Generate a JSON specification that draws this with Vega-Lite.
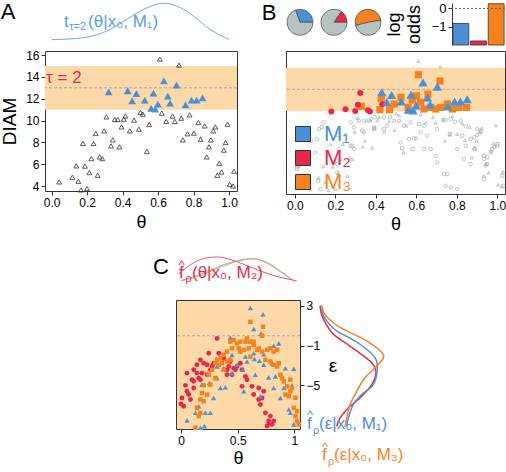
{
"$schema":"https://vega.github.io/schema/vega-lite/v6.json",
"padding":0,
"config":{"font":"Liberation Sans","view":{"stroke":null},"axis":{"labelFont":"Liberation Sans","titleFont":"Liberation Sans","labelColor":"#000","titleColor":"#000","tickColor":"#333","domainColor":"#333","grid":false,"titleFontWeight":"normal","labelFontSize":12,"tickSize":4,"labelPadding":2}},
"datasets":{
"aDens":[{"theta":0,"d":0.3},{"theta":0.18,"d":2.3},{"theta":0.33,"d":10.6},{"theta":0.424,"d":20.6},{"theta":0.5,"d":29},{"theta":0.574,"d":34.6},{"theta":0.63,"d":36.6},{"theta":0.705,"d":34},{"theta":0.8,"d":24},{"theta":0.893,"d":10.6},{"theta":1.0,"d":0.6}],
"aGrey":[{"theta":0.610,"diam":15.63},{"theta":0.718,"diam":15.08},{"theta":0.309,"diam":10.34},{"theta":0.356,"diam":10.1},{"theta":0.373,"diam":10.1},{"theta":0.407,"diam":10.13},{"theta":0.416,"diam":10.43},{"theta":0.501,"diam":10.74},{"theta":0.514,"diam":10.59},{"theta":0.465,"diam":10.04},{"theta":0.394,"diam":9.42},{"theta":0.441,"diam":9.06},{"theta":0.492,"diam":9.21},{"theta":0.550,"diam":9.64},{"theta":0.621,"diam":10.68},{"theta":0.646,"diam":9.92},{"theta":0.682,"diam":10.41},{"theta":0.695,"diam":9.92},{"theta":0.731,"diam":10.22},{"theta":0.778,"diam":10.52},{"theta":0.827,"diam":9.82},{"theta":0.863,"diam":9.51},{"theta":0.923,"diam":9.42},{"theta":0.911,"diam":9.06},{"theta":0.992,"diam":9.67},{"theta":0.249,"diam":8.82},{"theta":0.296,"diam":9.06},{"theta":0.177,"diam":7.9},{"theta":0.237,"diam":7.9},{"theta":0.345,"diam":8.23},{"theta":0.335,"diam":7.68},{"theta":0.382,"diam":7.59},{"theta":0.537,"diam":7.16},{"theta":0.740,"diam":8.23},{"theta":0.766,"diam":8.79},{"theta":0.802,"diam":8.85},{"theta":0.840,"diam":8.29},{"theta":0.898,"diam":8.23},{"theta":0.887,"diam":7.59},{"theta":0.981,"diam":7.99},{"theta":0.971,"diam":7.29},{"theta":0.874,"diam":6.67},{"theta":0.224,"diam":6.52},{"theta":0.271,"diam":6.67},{"theta":0.286,"diam":6.52},{"theta":0.188,"diam":5.83},{"theta":0.139,"diam":5.85},{"theta":0.213,"diam":5.24},{"theta":0.117,"diam":4.81},{"theta":0.151,"diam":4.44},{"theta":0.043,"diam":4.38},{"theta":0.260,"diam":4.99},{"theta":0.166,"diam":3.64},{"theta":0.200,"diam":3.77},{"theta":0.945,"diam":6.09},{"theta":0.934,"diam":4.99},{"theta":0.958,"diam":5.29},{"theta":1.028,"diam":5.36},{"theta":1.004,"diam":4.17},{"theta":1.023,"diam":4.01}],
"aBlue":[{"theta":0.322,"diam":12.63},{"theta":0.429,"diam":12.73},{"theta":0.478,"diam":12.48},{"theta":0.454,"diam":11.81},{"theta":0.525,"diam":11.87},{"theta":0.574,"diam":12.51},{"theta":0.633,"diam":13.64},{"theta":0.704,"diam":13.25},{"theta":0.655,"diam":12.24},{"theta":0.668,"diam":11.6},{"theta":0.599,"diam":11.5},{"theta":0.561,"diam":11.11},{"theta":0.584,"diam":11.05},{"theta":0.755,"diam":11.44},{"theta":0.789,"diam":11.87},{"theta":0.818,"diam":11.87},{"theta":0.851,"diam":12.08}],
"bCirc":[{"theta":0.143,"diam":9.94},{"theta":0.119,"diam":9.32},{"theta":0.082,"diam":8.24},{"theta":0.107,"diam":8.40},{"theta":0.099,"diam":7.17},{"theta":0.011,"diam":5.78},{"theta":0.020,"diam":5.93},{"theta":0.193,"diam":6.24},{"theta":0.209,"diam":6.08},{"theta":0.275,"diam":9.94},{"theta":0.292,"diam":9.48},{"theta":0.316,"diam":10.09},{"theta":0.341,"diam":10.09},{"theta":0.374,"diam":10.25},{"theta":0.394,"diam":10.41},{"theta":0.440,"diam":10.41},{"theta":0.456,"diam":9.63},{"theta":0.489,"diam":10.09},{"theta":0.514,"diam":10.09},{"theta":0.539,"diam":9.63},{"theta":0.572,"diam":9.94},{"theta":0.613,"diam":9.79},{"theta":0.638,"diam":9.63},{"theta":0.703,"diam":9.32},{"theta":0.733,"diam":10.16},{"theta":0.745,"diam":10.16},{"theta":0.770,"diam":10.25},{"theta":0.791,"diam":10.0},{"theta":0.819,"diam":10.09},{"theta":0.844,"diam":9.57},{"theta":0.901,"diam":9.32},{"theta":0.918,"diam":9.17},{"theta":0.564,"diam":8.40},{"theta":0.588,"diam":8.46},{"theta":0.598,"diam":8.46},{"theta":0.638,"diam":7.47},{"theta":0.671,"diam":7.47},{"theta":0.695,"diam":6.85},{"theta":0.703,"diam":6.24},{"theta":0.737,"diam":5.16},{"theta":0.753,"diam":5.16},{"theta":0.745,"diam":4.07},{"theta":0.770,"diam":3.93},{"theta":0.802,"diam":3.77},{"theta":0.934,"diam":6.55},{"theta":0.951,"diam":6.70},{"theta":0.967,"diam":7.17},{"theta":0.984,"diam":7.63},{"theta":1.0,"diam":7.78},{"theta":0.934,"diam":4.69},{"theta":0.943,"diam":5.93},{"theta":0.127,"diam":3.77},{"theta":0.209,"diam":5.31},{"theta":0.217,"diam":7.47},{"theta":0.275,"diam":7.78},{"theta":0.292,"diam":7.47},{"theta":0.341,"diam":9.02},{"theta":0.391,"diam":9.32},{"theta":0.440,"diam":9.32},{"theta":0.522,"diam":8.09},{"theta":0.621,"diam":9.02},{"theta":0.654,"diam":8.70},{"theta":0.868,"diam":8.40},{"theta":0.885,"diam":8.56},{"theta":0.901,"diam":8.77},{"theta":0.918,"diam":9.02},{"theta":0.802,"diam":7.47},{"theta":0.835,"diam":6.55},{"theta":0.868,"diam":6.08}],
"bSq":[{"theta":0.132,"diam":9.48},{"theta":0.214,"diam":8.77},{"theta":0.283,"diam":7.78},{"theta":0.333,"diam":9.17},{"theta":0.391,"diam":9.48},{"theta":0.470,"diam":10.41},{"theta":0.530,"diam":7.54},{"theta":0.582,"diam":7.47},{"theta":0.765,"diam":8.86},{"theta":0.827,"diam":8.70},{"theta":0.844,"diam":7.78},{"theta":0.888,"diam":7.47},{"theta":0.934,"diam":6.85},{"theta":0.948,"diam":6.08},{"theta":0.975,"diam":7.47},{"theta":1.0,"diam":7.94},{"theta":1.025,"diam":5.0},{"theta":1.03,"diam":4.07},{"theta":0.115,"diam":4.54},{"theta":0.011,"diam":5.62}],
"bHi":[{"model":"M₃","theta":0.610,"diam":14.35},{"model":"M₃","theta":0.717,"diam":13.77},{"model":"M₃","theta":0.427,"diam":12.17},{"model":"M₃","theta":0.328,"diam":11.43},{"model":"M₃","theta":0.420,"diam":11.11},{"model":"M₃","theta":0.468,"diam":11.11},{"model":"M₃","theta":0.524,"diam":12.26},{"model":"M₃","theta":0.580,"diam":12.01},{"model":"M₃","theta":0.621,"diam":11.8},{"model":"M₃","theta":0.657,"diam":12.56},{"model":"M₃","theta":0.671,"diam":11.33},{"model":"M₃","theta":0.696,"diam":11.18},{"model":"M₃","theta":0.753,"diam":11.64},{"model":"M₃","theta":0.778,"diam":11.18},{"model":"M₃","theta":0.848,"diam":11.33},{"model":"M₃","theta":0.49,"diam":11.64},{"model":"M₃","theta":0.559,"diam":11.33},{"model":"M₃","theta":0.638,"diam":11.18},{"model":"M₃","theta":0.601,"diam":12.4},{"model":"M₃","theta":0.720,"diam":11.33},{"model":"M₃","theta":0.811,"diam":11.33},
{"model":"M₂","theta":0.180,"diam":10.96},{"model":"M₂","theta":0.250,"diam":11.15},{"model":"M₂","theta":0.298,"diam":10.99},{"model":"M₂","theta":0.311,"diam":11.57},{"model":"M₂","theta":0.361,"diam":11.06},{"model":"M₂","theta":0.371,"diam":10.96},{"model":"M₂","theta":0.432,"diam":11.61},{"model":"M₂","theta":0.323,"diam":12.66},
{"model":"M₁","theta":0.429,"diam":12.73},{"model":"M₁","theta":0.478,"diam":12.48},{"model":"M₁","theta":0.454,"diam":11.81},{"model":"M₁","theta":0.525,"diam":11.87},{"model":"M₁","theta":0.574,"diam":12.51},{"model":"M₁","theta":0.633,"diam":13.64},{"model":"M₁","theta":0.704,"diam":13.25},{"model":"M₁","theta":0.655,"diam":12.24},{"model":"M₁","theta":0.668,"diam":11.6},{"model":"M₁","theta":0.599,"diam":11.5},{"model":"M₁","theta":0.561,"diam":11.11},{"model":"M₁","theta":0.584,"diam":11.05},{"model":"M₁","theta":0.755,"diam":11.44},{"model":"M₁","theta":0.789,"diam":11.87},{"model":"M₁","theta":0.818,"diam":11.87},{"model":"M₁","theta":0.851,"diam":12.08}],
"pie1":[{"part":"sel","frac":0.305},{"part":"rest","frac":0.695}],
"pie2":[{"part":"sel","frac":0.156},{"part":"rest","frac":0.844}],
"pie3":[{"part":"sel","frac":0.515},{"part":"rest","frac":0.485}],
"odds":[{"model":"M₁","lo":-0.82},{"model":"M₂","lo":-1.78},{"model":"M₃","lo":0.26}],
"cDens":[{"model":"M₂","theta":-0.02,"d":8},{"model":"M₂","theta":0.08,"d":17},{"model":"M₂","theta":0.2,"d":23.5},{"model":"M₂","theta":0.32,"d":25},{"model":"M₂","theta":0.45,"d":22},{"model":"M₂","theta":0.6,"d":15.5},{"model":"M₂","theta":0.75,"d":9},{"model":"M₂","theta":0.873,"d":4.7},{"model":"M₂","theta":1.02,"d":1.3},
{"model":"M₁","theta":0.0,"d":1.5},{"model":"M₁","theta":0.168,"d":7.5},{"model":"M₁","theta":0.344,"d":16},{"model":"M₁","theta":0.52,"d":22},{"model":"M₁","theta":0.62,"d":23.5},{"model":"M₁","theta":0.756,"d":19},{"model":"M₁","theta":0.873,"d":10.5},{"model":"M₁","theta":1.005,"d":0.5},
{"model":"M₃","theta":0.0,"d":1},{"model":"M₃","theta":0.168,"d":6.3},{"model":"M₃","theta":0.344,"d":14.7},{"model":"M₃","theta":0.52,"d":21.3},{"model":"M₃","theta":0.638,"d":23},{"model":"M₃","theta":0.756,"d":19.7},{"model":"M₃","theta":0.873,"d":11.3},{"model":"M₃","theta":1.005,"d":0}],
"eDens":[{"model":"M₂","eps":3.03,"d":0.01},{"model":"M₂","eps":2.0,"d":0.03},{"model":"M₂","eps":1.2,"d":0.07},{"model":"M₂","eps":0.16,"d":0.143},{"model":"M₂","eps":-0.7,"d":0.26},{"model":"M₂","eps":-1.53,"d":0.377},{"model":"M₂","eps":-2.72,"d":0.527},{"model":"M₂","eps":-3.73,"d":0.57},{"model":"M₂","eps":-4.92,"d":0.527},{"model":"M₂","eps":-6.27,"d":0.41},{"model":"M₂","eps":-7.28,"d":0.293},{"model":"M₂","eps":-8.3,"d":0.21},{"model":"M₂","eps":-9.15,"d":0.177},
{"model":"M₁","eps":3.03,"d":0.017},{"model":"M₁","eps":2.0,"d":0.045},{"model":"M₁","eps":1.2,"d":0.1},{"model":"M₁","eps":0.5,"d":0.177},{"model":"M₁","eps":-0.86,"d":0.41},{"model":"M₁","eps":-2.21,"d":0.56},{"model":"M₁","eps":-3.4,"d":0.583},{"model":"M₁","eps":-4.92,"d":0.543},{"model":"M₁","eps":-5.93,"d":0.427},{"model":"M₁","eps":-6.95,"d":0.343},{"model":"M₁","eps":-8.3,"d":0.293},{"model":"M₁","eps":-9.15,"d":0.277},
{"model":"M₃","eps":3.03,"d":0.027},{"model":"M₃","eps":2.0,"d":0.07},{"model":"M₃","eps":0.84,"d":0.21},{"model":"M₃","eps":-0.52,"d":0.477},{"model":"M₃","eps":-1.95,"d":0.645},{"model":"M₃","eps":-3.06,"d":0.577},{"model":"M₃","eps":-4.24,"d":0.46},{"model":"M₃","eps":-5.6,"d":0.377},{"model":"M₃","eps":-6.95,"d":0.31},{"model":"M₃","eps":-8.3,"d":0.277},{"model":"M₃","eps":-9.15,"d":0.26}],
"cPts":[
{"model":"M₂","theta":0.318,"eps":-0.27},{"model":"M₂","theta":0.333,"eps":-1.77},{"model":"M₂","theta":0.244,"eps":-1.77},{"model":"M₂","theta":0.171,"eps":-2.43},{"model":"M₂","theta":0.200,"eps":-2.77},{"model":"M₂","theta":0.230,"eps":-2.93},{"model":"M₂","theta":0.274,"eps":-3.10},{"model":"M₂","theta":0.141,"eps":-2.93},{"model":"M₂","theta":0.112,"eps":-3.43},{"model":"M₂","theta":0.141,"eps":-3.77},{"model":"M₂","theta":0.185,"eps":-3.77},{"model":"M₂","theta":0.289,"eps":-2.77},{"model":"M₂","theta":0.259,"eps":-3.43},{"model":"M₂","theta":0.053,"eps":-3.77},{"model":"M₂","theta":0.097,"eps":-4.43},{"model":"M₂","theta":0.112,"eps":-4.60},{"model":"M₂","theta":0.039,"eps":-5.00},{"model":"M₂","theta":0.171,"eps":-4.43},{"model":"M₂","theta":0.230,"eps":-3.93},{"model":"M₂","theta":0.156,"eps":-4.27},{"model":"M₂","theta":0.068,"eps":-5.93},{"model":"M₂","theta":0.053,"eps":-5.60},{"model":"M₂","theta":0.009,"eps":-6.27},{"model":"M₂","theta":0.000,"eps":-6.87},{"model":"M₂","theta":0.024,"eps":-7.10},{"model":"M₂","theta":0.083,"eps":-6.43},{"model":"M₂","theta":0.112,"eps":-5.27},{"model":"M₂","theta":0.376,"eps":-2.27},{"model":"M₂","theta":0.435,"eps":-2.60},{"model":"M₂","theta":0.421,"eps":-3.10},{"model":"M₂","theta":0.465,"eps":-3.27},{"model":"M₂","theta":0.494,"eps":-3.10},{"model":"M₂","theta":0.523,"eps":-2.77},{"model":"M₂","theta":0.538,"eps":-3.43},{"model":"M₂","theta":0.568,"eps":-4.10},{"model":"M₂","theta":0.582,"eps":-4.43},{"model":"M₂","theta":0.538,"eps":-5.10},{"model":"M₂","theta":0.450,"eps":-3.93},{"model":"M₂","theta":0.479,"eps":-3.43},{"model":"M₂","theta":0.406,"eps":-3.43},{"model":"M₂","theta":0.626,"eps":-5.10},{"model":"M₂","theta":0.641,"eps":-5.93},{"model":"M₂","theta":0.685,"eps":-6.43},{"model":"M₂","theta":0.700,"eps":-6.93},{"model":"M₂","theta":0.715,"eps":-6.27},{"model":"M₂","theta":0.729,"eps":-5.60},{"model":"M₂","theta":0.685,"eps":-5.27},{"model":"M₂","theta":0.744,"eps":-7.77},{"model":"M₂","theta":0.788,"eps":-8.10},{"model":"M₂","theta":0.773,"eps":-8.60},{"model":"M₂","theta":0.817,"eps":-8.60},{"model":"M₂","theta":0.773,"eps":-8.93},{"model":"M₂","theta":0.803,"eps":-8.93},{"model":"M₂","theta":0.759,"eps":-9.10},{"model":"M₂","theta":0.406,"eps":-3.93},
{"model":"M₁","theta":0.612,"eps":2.80},{"model":"M₁","theta":0.723,"eps":2.17},{"model":"M₁","theta":0.641,"eps":0.67},{"model":"M₁","theta":0.706,"eps":0.23},{"model":"M₁","theta":0.435,"eps":-0.20},{"model":"M₁","theta":0.817,"eps":-1.00},{"model":"M₁","theta":0.862,"eps":-0.77},{"model":"M₁","theta":0.647,"eps":-2.33},{"model":"M₁","theta":0.691,"eps":-2.53},{"model":"M₁","theta":0.582,"eps":-2.60},{"model":"M₁","theta":0.803,"eps":-2.77},{"model":"M₁","theta":0.494,"eps":-2.93},{"model":"M₁","theta":0.376,"eps":-3.27},{"model":"M₁","theta":0.318,"eps":-3.10},{"model":"M₁","theta":0.450,"eps":-3.77},{"model":"M₁","theta":0.544,"eps":-3.43},{"model":"M₁","theta":0.729,"eps":-2.93},{"model":"M₁","theta":0.920,"eps":-3.27},{"model":"M₁","theta":0.994,"eps":-3.33},{"model":"M₁","theta":0.832,"eps":-4.10},{"model":"M₁","theta":0.773,"eps":-4.20},{"model":"M₁","theta":0.656,"eps":-3.93},{"model":"M₁","theta":0.347,"eps":-5.27},{"model":"M₁","theta":0.391,"eps":-5.20},{"model":"M₁","theta":0.185,"eps":-4.93},{"model":"M₁","theta":0.288,"eps":-6.27},{"model":"M₁","theta":0.553,"eps":-5.60},{"model":"M₁","theta":0.700,"eps":-6.10},{"model":"M₁","theta":0.817,"eps":-5.27},{"model":"M₁","theta":0.906,"eps":-5.27},{"model":"M₁","theta":0.979,"eps":-5.00},{"model":"M₁","theta":0.876,"eps":-6.27},{"model":"M₁","theta":0.950,"eps":-7.43},{"model":"M₁","theta":0.964,"eps":-7.77},{"model":"M₁","theta":0.156,"eps":-7.10},{"model":"M₁","theta":0.259,"eps":-7.77},{"model":"M₁","theta":0.127,"eps":-7.77},{"model":"M₁","theta":0.053,"eps":-8.53},{"model":"M₁","theta":0.206,"eps":-9.10},{"model":"M₁","theta":0.171,"eps":-9.27},{"model":"M₁","theta":0.994,"eps":-8.93},{"model":"M₁","theta":0.450,"eps":-1.93},{"model":"M₁","theta":0.568,"eps":-2.10},{"model":"M₁","theta":0.641,"eps":-1.77},{"model":"M₁","theta":0.729,"eps":-1.87},{"model":"M₁","theta":0.318,"eps":-4.27},{"model":"M₁","theta":0.251,"eps":-4.77},{"model":"M₁","theta":0.215,"eps":-7.77},
{"model":"M₃","theta":0.612,"eps":1.40},{"model":"M₃","theta":0.723,"eps":0.90},{"model":"M₃","theta":0.715,"eps":0.00},{"model":"M₃","theta":0.435,"eps":-0.60},{"model":"M₃","theta":0.465,"eps":-0.43},{"model":"M₃","theta":0.494,"eps":-0.77},{"model":"M₃","theta":0.523,"eps":-0.60},{"model":"M₃","theta":0.568,"eps":-0.60},{"model":"M₃","theta":0.606,"eps":-0.60},{"model":"M₃","theta":0.641,"eps":-0.60},{"model":"M₃","theta":0.450,"eps":-1.27},{"model":"M₃","theta":0.509,"eps":-1.27},{"model":"M₃","theta":0.553,"eps":-1.43},{"model":"M₃","theta":0.597,"eps":-1.27},{"model":"M₃","theta":0.641,"eps":-0.93},{"model":"M₃","theta":0.685,"eps":-1.27},{"model":"M₃","theta":0.715,"eps":-1.60},{"model":"M₃","theta":0.759,"eps":-1.43},{"model":"M₃","theta":0.788,"eps":-1.27},{"model":"M₃","theta":0.817,"eps":-1.60},{"model":"M₃","theta":0.847,"eps":-1.43},{"model":"M₃","theta":0.670,"eps":-1.43},{"model":"M₃","theta":0.406,"eps":-1.60},{"model":"M₃","theta":0.376,"eps":-1.93},{"model":"M₃","theta":0.347,"eps":-2.27},{"model":"M₃","theta":0.318,"eps":-2.43},{"model":"M₃","theta":0.303,"eps":-2.77},{"model":"M₃","theta":0.362,"eps":-2.77},{"model":"M₃","theta":0.406,"eps":-2.60},{"model":"M₃","theta":0.435,"eps":-2.43},{"model":"M₃","theta":0.376,"eps":-3.43},{"model":"M₃","theta":0.333,"eps":-2.93},{"model":"M₃","theta":0.274,"eps":-3.43},{"model":"M₃","theta":0.244,"eps":-3.93},{"model":"M₃","theta":0.303,"eps":-4.27},{"model":"M₃","theta":0.259,"eps":-4.93},{"model":"M₃","theta":0.200,"eps":-5.00},{"model":"M₃","theta":0.230,"eps":-5.93},{"model":"M₃","theta":0.185,"eps":-5.77},{"model":"M₃","theta":0.171,"eps":-6.43},{"model":"M₃","theta":0.200,"eps":-6.60},{"model":"M₃","theta":0.141,"eps":-7.27},{"model":"M₃","theta":0.171,"eps":-7.77},{"model":"M₃","theta":0.156,"eps":-8.10},{"model":"M₃","theta":0.127,"eps":-9.27},{"model":"M₃","theta":0.744,"eps":-2.43},{"model":"M₃","theta":0.788,"eps":-2.60},{"model":"M₃","theta":0.817,"eps":-2.93},{"model":"M₃","theta":0.847,"eps":-3.10},{"model":"M₃","theta":0.876,"eps":-3.93},{"model":"M₃","theta":0.891,"eps":-4.27},{"model":"M₃","theta":0.906,"eps":-4.60},{"model":"M₃","theta":0.935,"eps":-5.10},{"model":"M₃","theta":0.920,"eps":-5.93},{"model":"M₃","theta":0.950,"eps":-6.10},{"model":"M₃","theta":0.964,"eps":-5.60},{"model":"M₃","theta":0.979,"eps":-5.27},{"model":"M₃","theta":1.009,"eps":-6.27},{"model":"M₃","theta":0.994,"eps":-7.27},{"model":"M₃","theta":1.023,"eps":-7.60},{"model":"M₃","theta":1.009,"eps":-8.10},{"model":"M₃","theta":1.023,"eps":-8.60},{"model":"M₃","theta":1.038,"eps":-8.93},{"model":"M₃","theta":0.582,"eps":-0.27},{"model":"M₃","theta":0.523,"eps":-1.60},{"model":"M₃","theta":0.612,"eps":-2.10},{"model":"M₃","theta":0.964,"eps":-4.43},{"model":"M₃","theta":0.862,"eps":-2.77}]
},
"spacing":21,
"resolve":{"scale":{"color":"independent","shape":"independent","size":"independent","theta":"independent"}},
"vconcat":[
{"hconcat":[
 {"vconcat":[
  {"width":192,"height":37,"layer":[
   {"data":{"name":"aDens"},"mark":{"type":"line","color":"#6EA9E0","strokeWidth":1,"interpolate":"monotone"},"encoding":{"x":{"field":"theta","type":"quantitative","scale":{"domain":[-0.037,1.045],"nice":false,"zero":false},"axis":null},"y":{"field":"d","type":"quantitative","scale":{"domain":[0,37],"nice":false},"axis":null}}},
   {"data":{"values":[{}]},"mark":{"type":"text","text":"A","fontSize":22,"color":"#000","align":"center","baseline":"middle"},"encoding":{"x":{"datum":-0.245,"type":"quantitative","axis":null},"y":{"datum":28,"type":"quantitative","axis":null}}},
   {"data":{"values":[{}]},"mark":{"type":"text","text":"t","fontSize":17,"color":"#5A9EDD","align":"left","baseline":"alphabetic"},"encoding":{"x":{"datum":0.07,"type":"quantitative","axis":null},"y":{"datum":13,"type":"quantitative","axis":null}}},
   {"data":{"values":[{}]},"mark":{"type":"text","text":"τ=2","fontSize":11,"color":"#5A9EDD","align":"left","baseline":"alphabetic"},"encoding":{"x":{"datum":0.099,"type":"quantitative","axis":null},"y":{"datum":10,"type":"quantitative","axis":null}}},
   {"data":{"values":[{}]},"mark":{"type":"text","text":"(θ|x₀, M₁)","fontSize":17,"color":"#5A9EDD","align":"left","baseline":"alphabetic"},"encoding":{"x":{"datum":0.206,"type":"quantitative","axis":null},"y":{"datum":13,"type":"quantitative","axis":null}}}
  ]},
  {"width":192,"height":140,"view":{"stroke":"#333","strokeWidth":1},"layer":[
   {"data":{"values":[{}]},"mark":{"type":"rect","color":"#FDD9AA"},"encoding":{"y":{"datum":11,"type":"quantitative","scale":{"domain":[3.55,16.37],"nice":false,"zero":false},"axis":{"values":[4,6,8,10,12,14,16],"title":"DIAM","titleFontSize":19,"titlePadding":6,"domain":false}},"y2":{"datum":15}}},
   {"data":{"values":[{}]},"mark":{"type":"rule","color":"#999","strokeDash":[3,2],"strokeWidth":0.8},"encoding":{"y":{"datum":13,"type":"quantitative","axis":{"values":[4,6,8,10,12,14,16],"title":"DIAM","titleFontSize":19,"titlePadding":6,"domain":false}}}},
   {"data":{"name":"aGrey"},"mark":{"type":"point","shape":"triangle-up","filled":false,"color":"#333","size":24,"strokeWidth":0.8,"opacity":1},"encoding":{"x":{"field":"theta","type":"quantitative","scale":{"domain":[-0.037,1.045],"nice":false,"zero":false},"axis":{"values":[0,0.2,0.4,0.6,0.8,1],"format":".1f","title":"θ","titleFontSize":18,"titlePadding":5,"domain":false}},"y":{"field":"diam","type":"quantitative","axis":{"values":[4,6,8,10,12,14,16],"title":"DIAM","titleFontSize":19,"titlePadding":6,"domain":false}}}},
   {"data":{"name":"aBlue"},"mark":{"type":"point","shape":"triangle-up","filled":true,"color":"#4C8FD6","size":62,"opacity":1},"encoding":{"x":{"field":"theta","type":"quantitative","axis":{"values":[0,0.2,0.4,0.6,0.8,1],"format":".1f","title":"θ","titleFontSize":18,"titlePadding":5,"domain":false}},"y":{"field":"diam","type":"quantitative","axis":{"values":[4,6,8,10,12,14,16],"title":"DIAM","titleFontSize":19,"titlePadding":6,"domain":false}}}},
   {"data":{"values":[{}]},"mark":{"type":"text","text":"τ = 2","fontSize":17,"color":"#E8284A","align":"left","baseline":"alphabetic"},"encoding":{"x":{"datum":-0.031,"type":"quantitative","axis":{"values":[0,0.2,0.4,0.6,0.8,1],"format":".1f","title":"θ","titleFontSize":18,"titlePadding":5,"domain":false}},"y":{"datum":13.48,"type":"quantitative","axis":{"values":[4,6,8,10,12,14,16],"title":"DIAM","titleFontSize":19,"titlePadding":6,"domain":false}}}},
   {"data":{"values":[{}]},"mark":{"type":"text","text":"B","fontSize":22,"color":"#000","align":"center","baseline":"middle"},"encoding":{"x":{"datum":1.2254,"type":"quantitative","axis":{"values":[0,0.2,0.4,0.6,0.8,1],"format":".1f","title":"θ","titleFontSize":18,"titlePadding":5,"domain":false}},"y":{"datum":19.88,"type":"quantitative","axis":{"values":[4,6,8,10,12,14,16],"title":"DIAM","titleFontSize":19,"titlePadding":6,"domain":false}}}}
  ]}
 ],"spacing":11,"bounds":"flush"},
 {"vconcat":[
  {"hconcat":[
    {"width":28,"height":38.6,"data":{"name":"pie1"},"mark":{"type":"arc","outerRadius":13,"stroke":"#444","strokeWidth":0.7},"encoding":{"theta":{"field":"frac","type":"quantitative","stack":true,"scale":{"domain":[0,1],"range":[-0.347,5.936]}},"color":{"field":"part","type":"nominal","scale":{"domain":["sel","rest"],"range":["#4C8FD6","#B7C3C1"]},"legend":null},"order":{"field":"part","sort":"descending"}}},
    {"width":28,"height":38.6,"data":{"name":"pie2"},"mark":{"type":"arc","outerRadius":13,"stroke":"#444","strokeWidth":0.7},"encoding":{"theta":{"field":"frac","type":"quantitative","stack":true,"scale":{"domain":[0,1],"range":[0.588,6.871]}},"color":{"field":"part","type":"nominal","scale":{"domain":["sel","rest"],"range":["#E8284A","#B7C3C1"]},"legend":null},"order":{"field":"part","sort":"descending"}}},
    {"width":28,"height":38.6,"data":{"name":"pie3"},"mark":{"type":"arc","outerRadius":13,"stroke":"#444","strokeWidth":0.7},"encoding":{"theta":{"field":"frac","type":"quantitative","stack":true,"scale":{"domain":[0,1],"range":[4.456,10.739]}},"color":{"field":"part","type":"nominal","scale":{"domain":["sel","rest"],"range":["#F6821F","#B7C3C1"]},"legend":null},"order":{"field":"part","sort":"descending"}}},
    {"width":58,"height":10,"data":{"values":[{}]},"mark":{"type":"point","opacity":0}},
    {"width":53,"height":42,"data":{"name":"odds"},"layer":[
     {"mark":{"type":"bar","stroke":"#333","strokeWidth":0.8},"encoding":{"x":{"field":"model","type":"nominal","sort":null,"axis":null,"scale":{"paddingInner":0.1,"paddingOuter":0.05}},"y":{"field":"lo","type":"quantitative","scale":{"domain":[-2,0.3],"nice":false,"zero":false},"axis":{"values":[0,-1],"title":["log","odds"],"titleFontSize":18,"titleLineHeight":20,"titlePadding":8,"labelFontSize":13,"domain":true}},"y2":{"datum":-2},"color":{"field":"model","type":"nominal","scale":{"domain":["M₁","M₂","M₃"],"range":["#4C8FD6","#E8284A","#F6821F"]},"legend":null}}},
     {"data":{"values":[{}]},"mark":{"type":"rule","color":"#555","strokeDash":[2,2],"strokeWidth":0.9},"encoding":{"y":{"datum":0,"type":"quantitative","axis":{"values":[0,-1],"title":["log","odds"],"titleFontSize":18,"titleLineHeight":20,"titlePadding":8,"labelFontSize":13,"domain":true}}}}
    ]}
  ],"spacing":6,"bounds":"flush","resolve":{"scale":{"color":"independent","theta":"independent"}}},
  {"width":219,"height":143,"view":{"stroke":"#333","strokeWidth":1},"layer":[
   {"data":{"values":[{}]},"mark":{"type":"rect","color":"#FDD9AA"},"encoding":{"y":{"datum":11,"type":"quantitative","scale":{"domain":[3.31,16.55],"nice":false,"zero":false},"axis":null},"y2":{"datum":15}}},
   {"data":{"values":[{}]},"mark":{"type":"rule","color":"#999","strokeDash":[3,2],"strokeWidth":0.8},"encoding":{"y":{"datum":13,"type":"quantitative","axis":null}}},
   {"data":{"name":"aGrey"},"mark":{"type":"point","shape":"triangle-up","filled":false,"color":"#A3ADAD","size":10,"strokeWidth":0.7,"opacity":1},"encoding":{"x":{"field":"theta","type":"quantitative","scale":{"domain":[-0.044,1.038],"nice":false,"zero":false},"axis":{"values":[0,0.2,0.4,0.6,0.8,1],"format":".1f","title":"θ","titleFontSize":18,"titlePadding":4,"domain":false}},"y":{"field":"diam","type":"quantitative","axis":null}}},
   {"data":{"name":"bCirc"},"mark":{"type":"point","shape":"circle","filled":false,"color":"#A3ADAD","size":12,"strokeWidth":0.7,"opacity":1},"encoding":{"x":{"field":"theta","type":"quantitative","axis":{"values":[0,0.2,0.4,0.6,0.8,1],"format":".1f","title":"θ","titleFontSize":18,"titlePadding":4,"domain":false}},"y":{"field":"diam","type":"quantitative","axis":null}}},
   {"data":{"name":"bSq"},"mark":{"type":"point","shape":"square","filled":false,"color":"#A3ADAD","size":10,"strokeWidth":0.7,"opacity":1},"encoding":{"x":{"field":"theta","type":"quantitative","axis":{"values":[0,0.2,0.4,0.6,0.8,1],"format":".1f","title":"θ","titleFontSize":18,"titlePadding":4,"domain":false}},"y":{"field":"diam","type":"quantitative","axis":null}}},
   {"data":{"name":"bHi"},"transform":[{"filter":"datum.model === 'M₃'"}],"mark":{"type":"point","shape":"square","filled":true,"size":52,"opacity":1},"encoding":{"x":{"field":"theta","type":"quantitative","axis":{"values":[0,0.2,0.4,0.6,0.8,1],"format":".1f","title":"θ","titleFontSize":18,"titlePadding":4,"domain":false}},"y":{"field":"diam","type":"quantitative","axis":null},
     "color":{"field":"model","type":"nominal","scale":{"domain":["M₁","M₂","M₃"],"range":["#4C8FD6","#E8284A","#F6821F"]},"legend":{"orient":"none","legendX":6,"legendY":72,"title":null,"symbolType":"square","symbolSize":225,"symbolStrokeColor":"#333","symbolStrokeWidth":1,"symbolOpacity":1,"labelFontSize":22,"labelOffset":10,"rowPadding":2,"padding":0,"labelColor":{"expr":"datum.index === 0 ? '#4C8FD6' : datum.index === 1 ? '#E8284A' : '#F6821F'"}}}}},
   {"data":{"name":"bHi"},"transform":[{"filter":"datum.model === 'M₂'"}],"mark":{"type":"point","shape":"circle","filled":true,"size":36,"opacity":1},"encoding":{"x":{"field":"theta","type":"quantitative","axis":{"values":[0,0.2,0.4,0.6,0.8,1],"format":".1f","title":"θ","titleFontSize":18,"titlePadding":4,"domain":false}},"y":{"field":"diam","type":"quantitative","axis":null},
     "color":{"field":"model","type":"nominal","scale":{"domain":["M₁","M₂","M₃"],"range":["#4C8FD6","#E8284A","#F6821F"]},"legend":{"orient":"none","legendX":6,"legendY":72,"title":null,"symbolType":"square","symbolSize":225,"symbolStrokeColor":"#333","symbolStrokeWidth":1,"symbolOpacity":1,"labelFontSize":22,"labelOffset":10,"rowPadding":2,"padding":0,"labelColor":{"expr":"datum.index === 0 ? '#4C8FD6' : datum.index === 1 ? '#E8284A' : '#F6821F'"}}}}},
   {"data":{"name":"bHi"},"transform":[{"filter":"datum.model === 'M₁'"}],"mark":{"type":"point","shape":"triangle-up","filled":true,"size":88,"opacity":1},"encoding":{"x":{"field":"theta","type":"quantitative","axis":{"values":[0,0.2,0.4,0.6,0.8,1],"format":".1f","title":"θ","titleFontSize":18,"titlePadding":4,"domain":false}},"y":{"field":"diam","type":"quantitative","axis":null},
     "color":{"field":"model","type":"nominal","scale":{"domain":["M₁","M₂","M₃"],"range":["#4C8FD6","#E8284A","#F6821F"]},"legend":{"orient":"none","legendX":6,"legendY":72,"title":null,"symbolType":"square","symbolSize":225,"symbolStrokeColor":"#333","symbolStrokeWidth":1,"symbolOpacity":1,"labelFontSize":22,"labelOffset":10,"rowPadding":2,"padding":0,"labelColor":{"expr":"datum.index === 0 ? '#4C8FD6' : datum.index === 1 ? '#E8284A' : '#F6821F'"}}}}}
  ]}
 ],"spacing":4,"resolve":{"scale":{"color":"independent","shape":"independent","size":"independent","theta":"independent"}}}
],"spacing":8,"resolve":{"scale":{"color":"independent","shape":"independent","size":"independent","theta":"independent"}}},
{"hconcat":[
 {"width":98,"height":10,"data":{"values":[{}]},"mark":{"type":"point","opacity":0}},
 {"vconcat":[
  {"width":124,"height":27,"layer":[
   {"data":{"name":"cDens"},"mark":{"type":"line","strokeWidth":0.9,"interpolate":"monotone","opacity":0.9},"encoding":{"x":{"field":"theta","type":"quantitative","scale":{"domain":[-0.044,1.049],"nice":false,"zero":false},"axis":null},"y":{"field":"d","type":"quantitative","scale":{"domain":[0,27],"nice":false},"axis":null},"color":{"field":"model","type":"nominal","scale":{"domain":["M₁","M₂","M₃"],"range":["#7FA3C4","#E8284A","#D9904A"]},"legend":null}}},
   {"data":{"values":[{}]},"mark":{"type":"text","text":"C","fontSize":22,"color":"#000","align":"center","baseline":"middle"},"encoding":{"x":{"datum":-0.176,"type":"quantitative","axis":null},"y":{"datum":15,"type":"quantitative","axis":null}}},
   {"data":{"values":[{}]},"mark":{"type":"text","text":"^","fontSize":13,"color":"#E8284A","align":"center","baseline":"alphabetic"},"encoding":{"x":{"datum":0.004,"type":"quantitative","axis":null},"y":{"datum":13,"type":"quantitative","axis":null}}},
   {"data":{"values":[{}]},"mark":{"type":"text","text":"f","fontSize":17,"color":"#E8284A","align":"left","baseline":"alphabetic"},"encoding":{"x":{"datum":-0.018,"type":"quantitative","axis":null},"y":{"datum":4,"type":"quantitative","axis":null}}},
   {"data":{"values":[{}]},"mark":{"type":"text","text":"ρ","fontSize":11,"color":"#E8284A","align":"left","baseline":"alphabetic"},"encoding":{"x":{"datum":0.04,"type":"quantitative","axis":null},"y":{"datum":0,"type":"quantitative","axis":null}}},
   {"data":{"values":[{}]},"mark":{"type":"text","text":"(θ|x₀, M₂)","fontSize":17,"color":"#E8284A","align":"left","baseline":"alphabetic"},"encoding":{"x":{"datum":0.097,"type":"quantitative","axis":null},"y":{"datum":4,"type":"quantitative","axis":null}}}
  ]},
  {"width":124,"height":129,"view":{"fill":"#FDD9A8","stroke":"#333","strokeWidth":1},"resolve":{"scale":{"x":"independent"}},"layer":[
   {"layer":[
    {"data":{"values":[{}]},"mark":{"type":"rule","color":"#999","strokeDash":[3,2],"strokeWidth":0.8},"encoding":{"y":{"datum":0,"type":"quantitative","scale":{"domain":[-9.4,3.6],"nice":false,"zero":false},"axis":{"orient":"right","values":[3,-1,-5],"title":null,"domain":false}}}},
    {"data":{"name":"cPts"},"mark":{"type":"point","filled":true,"opacity":1},"encoding":{"x":{"field":"theta","type":"quantitative","scale":{"domain":[-0.044,1.049],"nice":false,"zero":false},"axis":{"values":[0,0.5,1],"format":"~g","title":"θ","titleFontSize":18,"titlePadding":3,"domain":false}},"y":{"field":"eps","type":"quantitative","scale":{"domain":[-9.4,3.6],"nice":false,"zero":false},"axis":{"orient":"right","values":[3,-1,-5],"title":null,"domain":false}},
      "shape":{"field":"model","type":"nominal","scale":{"domain":["M₁","M₂","M₃"],"range":["triangle-up","circle","square"]},"legend":null},
      "size":{"field":"model","type":"nominal","scale":{"domain":["M₁","M₂","M₃"],"range":[28,20,22]},"legend":null},
      "color":{"field":"model","type":"nominal","scale":{"domain":["M₁","M₂","M₃"],"range":["#4C8FD6","#E8284A","#F6821F"]},"legend":null}}}
   ]},
   {"layer":[
    {"data":{"name":"eDens"},"mark":{"type":"line","strokeWidth":1.5,"interpolate":"cardinal"},"encoding":{"x":{"field":"d","type":"quantitative","scale":{"domain":[0,0.66],"range":[143,209],"nice":false,"zero":false},"axis":null},"y":{"field":"eps","type":"quantitative","scale":{"domain":[-9.4,3.6],"nice":false,"zero":false},"axis":{"orient":"right","values":[3,-1,-5],"title":null,"domain":false}},"order":{"field":"eps","sort":"descending"},"color":{"field":"model","type":"nominal","scale":{"domain":["M₁","M₂","M₃"],"range":["#4C8FD6","#E8284A","#F6821F"]},"legend":null}}},
    {"data":{"values":[{}]},"mark":{"type":"text","text":"ε","fontSize":19,"color":"#000","align":"center","baseline":"middle"},"encoding":{"x":{"datum":0.14,"type":"quantitative","axis":null},"y":{"datum":-3.09,"type":"quantitative","axis":{"orient":"right","values":[3,-1,-5],"title":null,"domain":false}}}},
    {"data":{"values":[{}]},"mark":{"type":"text","text":"^","fontSize":13,"color":"#4C8FD6","align":"center","baseline":"alphabetic"},"encoding":{"x":{"datum":-0.09,"type":"quantitative","axis":null},"y":{"datum":-8.37,"type":"quantitative","axis":{"orient":"right","values":[3,-1,-5],"title":null,"domain":false}}}},
    {"data":{"values":[{}]},"mark":{"type":"text","text":"f","fontSize":17,"color":"#4C8FD6","align":"left","baseline":"alphabetic"},"encoding":{"x":{"datum":-0.12,"type":"quantitative","axis":null},"y":{"datum":-9.39,"type":"quantitative","axis":{"orient":"right","values":[3,-1,-5],"title":null,"domain":false}}}},
    {"data":{"values":[{}]},"mark":{"type":"text","text":"ρ","fontSize":11,"color":"#4C8FD6","align":"left","baseline":"alphabetic"},"encoding":{"x":{"datum":-0.06,"type":"quantitative","axis":null},"y":{"datum":-9.9,"type":"quantitative","axis":{"orient":"right","values":[3,-1,-5],"title":null,"domain":false}}}},
    {"data":{"values":[{}]},"mark":{"type":"text","text":"(ε|x₀, M₁)","fontSize":17,"color":"#4C8FD6","align":"left","baseline":"alphabetic"},"encoding":{"x":{"datum":0.0,"type":"quantitative","axis":null},"y":{"datum":-9.39,"type":"quantitative","axis":{"orient":"right","values":[3,-1,-5],"title":null,"domain":false}}}},
    {"data":{"values":[{}]},"mark":{"type":"text","text":"^","fontSize":13,"color":"#F6821F","align":"center","baseline":"alphabetic"},"encoding":{"x":{"datum":0.06,"type":"quantitative","axis":null},"y":{"datum":-11.6,"type":"quantitative","axis":{"orient":"right","values":[3,-1,-5],"title":null,"domain":false}}}},
    {"data":{"values":[{}]},"mark":{"type":"text","text":"f","fontSize":17,"color":"#F6821F","align":"left","baseline":"alphabetic"},"encoding":{"x":{"datum":0.03,"type":"quantitative","axis":null},"y":{"datum":-12.5,"type":"quantitative","axis":{"orient":"right","values":[3,-1,-5],"title":null,"domain":false}}}},
    {"data":{"values":[{}]},"mark":{"type":"text","text":"ρ","fontSize":11,"color":"#F6821F","align":"left","baseline":"alphabetic"},"encoding":{"x":{"datum":0.09,"type":"quantitative","axis":null},"y":{"datum":-13.0,"type":"quantitative","axis":{"orient":"right","values":[3,-1,-5],"title":null,"domain":false}}}},
    {"data":{"values":[{}]},"mark":{"type":"text","text":"(ε|x₀, M₃)","fontSize":17,"color":"#F6821F","align":"left","baseline":"alphabetic"},"encoding":{"x":{"datum":0.15,"type":"quantitative","axis":null},"y":{"datum":-12.5,"type":"quantitative","axis":{"orient":"right","values":[3,-1,-5],"title":null,"domain":false}}}}
   ]}
  ]}
 ],"spacing":18,"bounds":"flush","resolve":{"scale":{"color":"independent","shape":"independent","size":"independent"}}}
],"spacing":10,"resolve":{"scale":{"color":"independent","shape":"independent","size":"independent"}}}
]
}
